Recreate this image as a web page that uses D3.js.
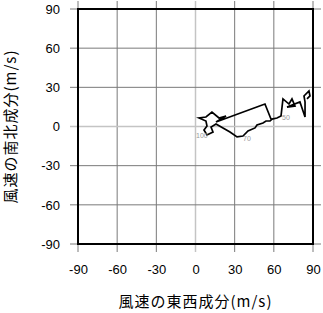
<!DOCTYPE html>
<html>
<head>
<meta charset="utf-8">
<script src="https://cdn.jsdelivr.net/npm/d3@7"></script>
<style>
  body { margin: 0; background: #fff; }
  svg text { font-family: "Liberation Sans", Arial, sans-serif; }
  .title { font-family: "Noto Sans CJK JP", "Liberation Sans", sans-serif; letter-spacing: 1px; }
</style>
</head>
<body>
<svg id="chart" width="323" height="313"></svg>
<script>
/*********************
	Data
**********************/
// wind components (m/s) along the hodograph, in drawing order
var u_wind = [57.8, 53.2, 15.7, 23.4, 18.0, 12.6, 8.0, 2.7, 8.0, 8.8, 6.5, 8.8, 13.4, 11.9, 15.7,
              26.4, 31.8, 36.4, 40.2, 45.6, 47.1, 51.7, 54.0, 57.1, 58.6, 62.4, 65.5,
              67.0, 71.6, 73.9, 76.2, 70.1, 80.0, 83.9, 83.9, 83.1, 86.9, 87.7, 85.4];
var v_wind = [5.7, 17.2, 3.4, 8.0, 6.5, 11.1, 7.3, 6.5, 4.2, 0.4, -2.7, -6.5, -4.2, -0.4, 1.9,
              -4.2, -8.0, -7.3, -3.4, -1.1, 1.1, 2.7, 4.2, 4.2, 5.7, 6.5, 8.0,
              21.1, 17.2, 21.1, 15.7, 14.9, 18.8, 7.3, 18.8, 23.4, 27.2, 23.4, 21.1];

// level labels and where they sit
var level_labels = ["100", "70", "50"];
var label_u = [0.4, 36.4, 66.3];
var label_v = [-8.8, -11.1, 5.0];

var tick_values = [-90, -60, -30, 0, 30, 60, 90];
var x_title = "風速の東西成分(m/s)";
var y_title = "風速の南北成分(m/s)";

/*********************
	Layout
**********************/
var plot_left = 78, plot_right = 313, plot_top = 9, plot_bottom = 244;
var tick_len = 8;

var svg = d3.select("#chart");

var x = d3.scaleLinear().domain([-90, 90]).range([plot_left, plot_right]);
var y = d3.scaleLinear().domain([-90, 90]).range([plot_bottom, plot_top]);

function gridColor(d){ return d == 0 ? "#c4c4c4" : "#7a7a7a"; }
function gridWidth(d){ return d == 0 ? 1.5 : 1; }

// grid lines (they run past the frame and act as the ticks)
svg.append("g").selectAll("line")
    .data(tick_values)
    .enter().append("line")
    .attr("x1", function(d){ return x(d); })
    .attr("x2", function(d){ return x(d); })
    .attr("y1", plot_top - tick_len)
    .attr("y2", plot_bottom + tick_len)
    .attr("stroke", gridColor)
    .attr("stroke-width", gridWidth);

svg.append("g").selectAll("line")
    .data(tick_values)
    .enter().append("line")
    .attr("y1", function(d){ return y(d); })
    .attr("y2", function(d){ return y(d); })
    .attr("x1", plot_left - tick_len)
    .attr("x2", plot_right + tick_len)
    .attr("stroke", gridColor)
    .attr("stroke-width", gridWidth);

// frame
svg.append("rect")
    .attr("x", plot_left)
    .attr("y", plot_top)
    .attr("width", plot_right - plot_left)
    .attr("height", plot_bottom - plot_top)
    .attr("fill", "none")
    .attr("stroke", "#000")
    .attr("stroke-width", 2);

// tick labels
var fmt = function(d){ return d.toString(); };
var x_axis = d3.axisBottom(x).tickValues(tick_values).tickSize(0).tickPadding(21).tickFormat(fmt);
var y_axis = d3.axisLeft(y).tickValues(tick_values).tickSize(0).tickPadding(18).tickFormat(fmt);

var gx = svg.append("g").attr("transform", "translate(0," + plot_bottom + ")").call(x_axis);
var gy = svg.append("g").attr("transform", "translate(" + plot_left + ",0)").call(y_axis);
[gx, gy].forEach(function(g){
    g.select(".domain").remove();
    g.selectAll("text").attr("font-size", 13).attr("fill", "#000")
        .attr("font-family", "'Liberation Sans', Arial, sans-serif");
});

// hodograph line
var pts = u_wind.map(function(d, i){ return [d, v_wind[i]]; });
var line = d3.line()
    .x(function(d){ return x(d[0]); })
    .y(function(d){ return y(d[1]); });

svg.append("path")
    .datum(pts)
    .attr("d", line)
    .attr("fill", "none")
    .attr("stroke", "#000")
    .attr("stroke-width", 1.7)
    .attr("stroke-linejoin", "miter");

// level labels
svg.append("g").selectAll("text")
    .data(level_labels)
    .enter().append("text")
    .attr("x", function(d, i){ return x(label_u[i]); })
    .attr("y", function(d, i){ return y(label_v[i]); })
    .attr("font-size", 7)
    .attr("fill", "#999")
    .text(function(d){ return d; });

// axis titles
svg.append("text")
    .attr("class", "title")
    .attr("x", (plot_left + plot_right) / 2)
    .attr("y", 307)
    .attr("text-anchor", "middle")
    .attr("font-size", 15)
    .text(x_title);

svg.append("text")
    .attr("class", "title")
    .attr("transform", "translate(16," + ((plot_top + plot_bottom) / 2) + ") rotate(-90)")
    .attr("text-anchor", "middle")
    .attr("font-size", 15)
    .text(y_title);
</script>
</body>
</html>
